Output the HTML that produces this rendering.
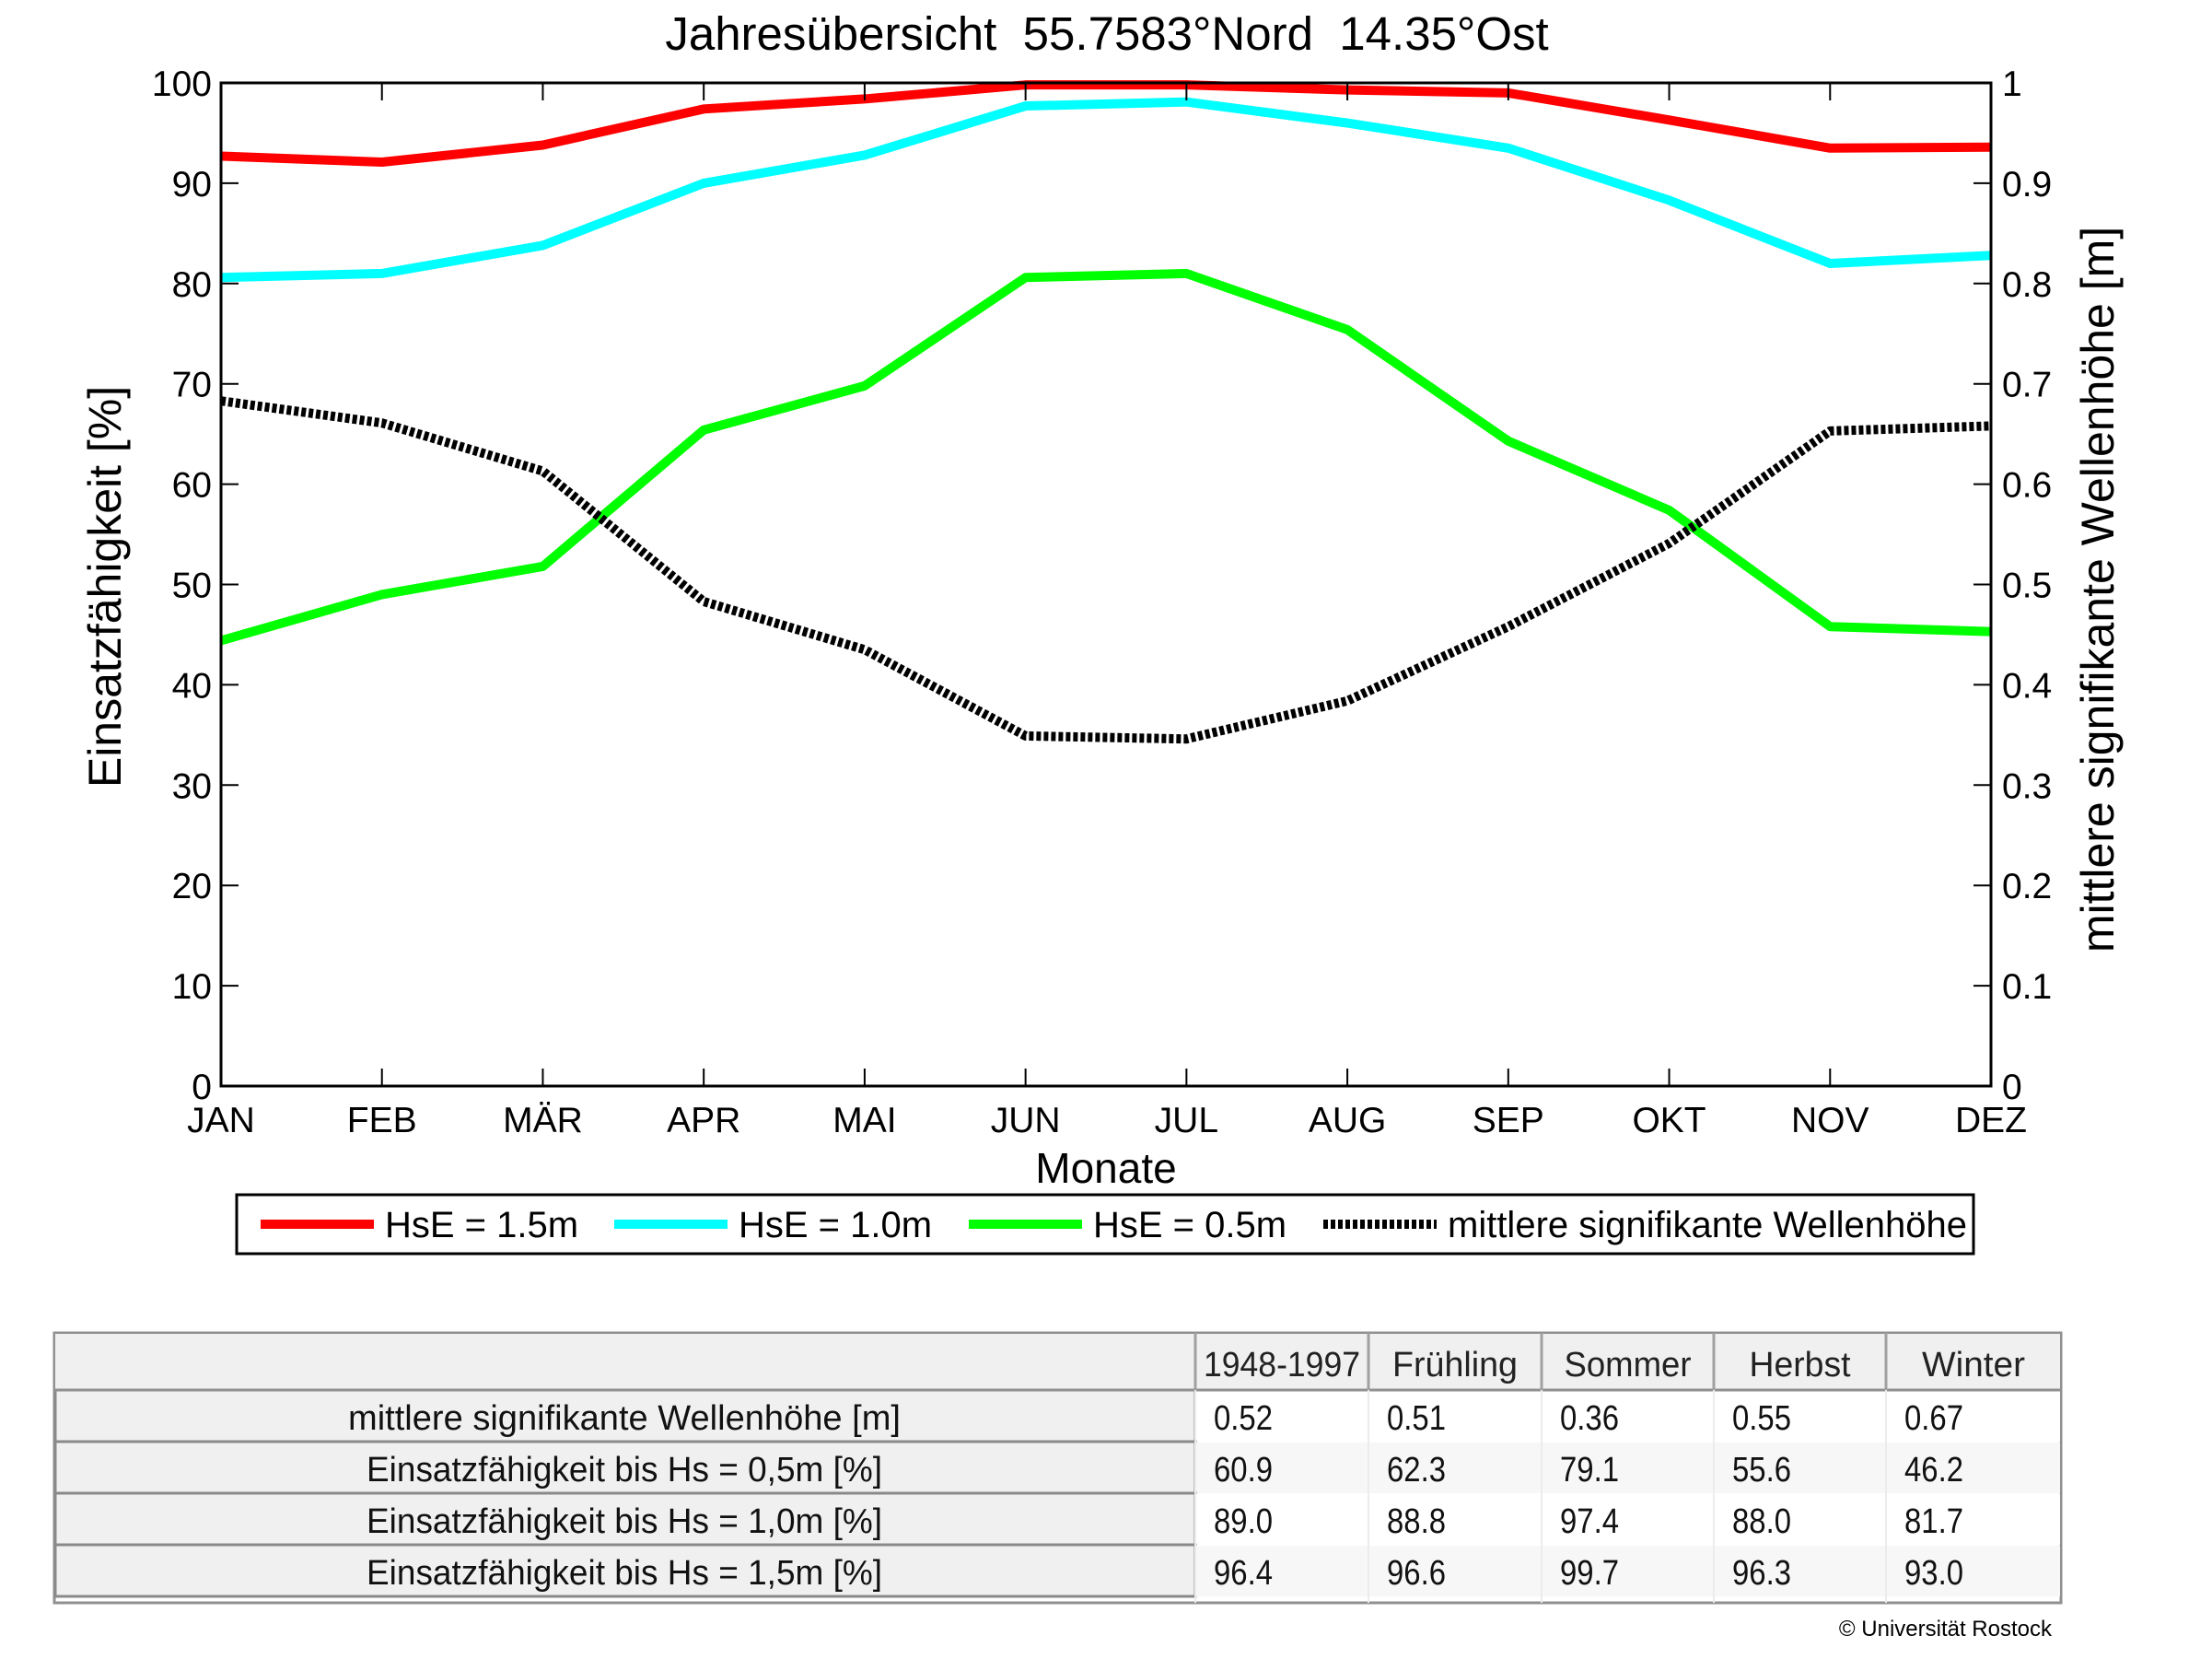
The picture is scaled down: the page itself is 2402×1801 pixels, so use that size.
<!DOCTYPE html>
<html><head><meta charset="utf-8"><style>
html,body{margin:0;padding:0;background:#fff;}
svg{display:block;font-family:"Liberation Sans",sans-serif;}
</style></head><body>
<svg id="chart" width="2402" height="1801" viewBox="0 0 2402 1801">
<g id="plot"></g>
<g id="tbl"></g>
</svg>
<script>
const months = ["JAN","FEB","MÄR","APR","MAI","JUN","JUL","AUG","SEP","OKT","NOV","DEZ"];
const hs15 = [92.7,92.1,93.8,97.4,98.4,99.8,99.8,99.3,99.0,96.3,93.5,93.6];
const hs10 = [80.6,81.0,83.8,90.0,92.8,97.7,98.1,96.0,93.5,88.3,82.0,82.8];
const hs05 = [44.4,49.0,51.8,65.4,69.8,80.6,81.0,75.4,64.3,57.4,45.8,45.3];
const waveH = [0.683,0.661,0.613,0.483,0.435,0.349,0.346,0.384,0.458,0.541,0.653,0.658];
const leftTicks = [0,10,20,30,40,50,60,70,80,90,100];
const rightTicks = [0,0.1,0.2,0.3,0.4,0.5,0.6,0.7,0.8,0.9,1];
const rightTickLabels = ["0","0.1","0.2","0.3","0.4","0.5","0.6","0.7","0.8","0.9","1"];
const tableHeader = ["","1948-1997","Frühling","Sommer","Herbst","Winter"];
const tableRows = [
 ["mittlere signifikante Wellenhöhe [m]","0.52","0.51","0.36","0.55","0.67"],
 ["Einsatzfähigkeit bis Hs = 0,5m [%]","60.9","62.3","79.1","55.6","46.2"],
 ["Einsatzfähigkeit bis Hs = 1,0m [%]","89.0","88.8","97.4","88.0","81.7"],
 ["Einsatzfähigkeit bis Hs = 1,5m [%]","96.4","96.6","99.7","96.3","93.0"]
];

const NS="http://www.w3.org/2000/svg";
const L=240,R=2162,T=90,B=1179;
const x=i=>L+i*(R-L)/(months.length-1);
const y=v=>B-(v/100)*(B-T);
const y2=v=>B-v*(B-T);
function mk(tag,attrs,parent,text){const e=document.createElementNS(NS,tag);for(const k in attrs)e.setAttribute(k,attrs[k]);if(text!==undefined)e.textContent=text;parent.appendChild(e);return e;}
const plot=document.getElementById('plot');

let t=mk('text',{x:1202,y:54,'font-size':51,'text-anchor':'middle',style:'white-space:pre'},plot,"Jahresübersicht  55.7583°Nord  14.35°Ost");



function series(vals,fn,color,name,dash){
  const pts=vals.map((v,i)=>x(i)+','+fn(v)).join(' ');
  const p=mk('polyline',{points:pts,fill:'none',stroke:color,'stroke-width':10,'stroke-linejoin':'round'},plot);
  if(dash)p.setAttribute('stroke-dasharray',dash);
  
  
}
series(hs05,y,'#00ff00','line-hse-0-5m');
series(hs10,y,'#00ffff','line-hse-1-0m');
series(hs15,y,'#ff0000','line-hse-1-5m');
series(waveH,y2,'#000','line-mean-wave-height','5,3');

let bx=mk('rect',{x:L,y:T,width:R-L,height:B-T,fill:'none',stroke:'#000','stroke-width':3},plot);



leftTicks.forEach(v=>{
  mk('line',{x1:L,x2:L+19,y1:y(v),y2:y(v),stroke:'#000','stroke-width':2},plot);
  const e=mk('text',{x:L-10,y:y(v)+14,'font-size':39,'text-anchor':'end'},plot,String(v));
  
  
});
rightTicks.forEach((v,i)=>{
  mk('line',{x1:R,x2:R-19,y1:y2(v),y2:y2(v),stroke:'#000','stroke-width':2},plot);
  const e=mk('text',{x:R+12,y:y2(v)+14,'font-size':39,'text-anchor':'start'},plot,rightTickLabels[i]);
  
  
});
months.forEach((m,i)=>{
  mk('line',{x1:x(i),x2:x(i),y1:B,y2:B-19,stroke:'#000','stroke-width':2},plot);
  mk('line',{x1:x(i),x2:x(i),y1:T,y2:T+19,stroke:'#000','stroke-width':2},plot);
  const e=mk('text',{x:x(i),y:B+50,'font-size':39,'text-anchor':'middle'},plot,m);
  
  
});
t=mk('text',{x:1201,y:1284,'font-size':46,'text-anchor':'middle'},plot,"Monate");


t=mk('text',{x:0,y:0,'font-size':50,'text-anchor':'middle',transform:'translate(131,637) rotate(-90)'},plot,"Einsatzfähigkeit [%]");


t=mk('text',{x:0,y:0,'font-size':50,'text-anchor':'middle',transform:'translate(2295,640) rotate(-90)'},plot,"mittlere signifikante Wellenhöhe [m]");



const lg=mk('g',{},plot);


mk('rect',{x:257,y:1297,width:1886,height:64,fill:'#fff',stroke:'#000','stroke-width':3},lg);
const legItems=[['#ff0000','HsE = 1.5m',283,null],['#00ffff','HsE = 1.0m',667,null],['#00ff00','HsE = 0.5m',1052,null],['#000','mittlere signifikante Wellenhöhe',1437,'5,3']];
legItems.forEach(it=>{
  const g=mk('g',{},lg);
  
  
  const ln=mk('line',{x1:it[2],x2:it[2]+123,y1:1329,y2:1329,stroke:it[0],'stroke-width':10},g);
  if(it[3])ln.setAttribute('stroke-dasharray',it[3]);
  mk('text',{x:it[2]+135,y:1343,'font-size':40},g,it[1]);
});

const tb=document.getElementById('tbl');
const colX=[59,1298,1486,1674,1861,2048,2238];
const rowY=[1447,1509,1565,1621,1677,1734];
mk('rect',{x:59,y:1447,width:2179,height:293,fill:'#fff',stroke:'#909090','stroke-width':3},tb);
mk('rect',{x:60,y:1448,width:2177,height:61,fill:'#f0f0f0'},tb);
for(let r=0;r<4;r++){
  mk('rect',{x:60,y:rowY[r+1],width:1238,height:56,fill:'#f0f0f0',stroke:'#8a8a8a','stroke-width':3},tb);
  mk('rect',{x:1298,y:rowY[r+1]+1,width:939,height:55,fill:r%2?'#f7f7f7':'#fff'},tb);
}
mk('line',{x1:59,x2:2238,y1:1509,y2:1509,stroke:'#909090','stroke-width':3},tb);
mk('line',{x1:59,x2:2238,y1:1740,y2:1740,stroke:'#909090','stroke-width':3},tb);
for(let c=1;c<6;c++){
  mk('line',{x1:colX[c],x2:colX[c],y1:1447,y2:1509,stroke:'#a0a0a0','stroke-width':3},tb);
  mk('line',{x1:colX[c],x2:colX[c],y1:1509,y2:1740,stroke:'#ececec','stroke-width':2},tb);
}
const hdrW=[0,170,136,138,110,112];
tableHeader.forEach((h,c)=>{
  if(!h)return;
  const e=mk('text',{x:(colX[c]+colX[c+1])/2,y:1494,'font-size':38,'text-anchor':'middle',fill:'#222'},tb,h);
  
  
  e.setAttribute('textLength',hdrW[c]);
  e.setAttribute('lengthAdjust','spacingAndGlyphs');
});
tableRows.forEach((row,r)=>{
  row.forEach((v,c)=>{
    const yy=rowY[r+1]+43;
    let e;
    if(c===0){
      e=mk('text',{x:678,y:yy,'font-size':38,'text-anchor':'middle',fill:'#111'},tb,v);
      e.setAttribute('textLength',r===0?600:560);
    }else{
      e=mk('text',{x:colX[c]+20,y:yy,'font-size':38,fill:'#111'},tb,v);
      e.setAttribute('textLength',v.length*16);
    }
    e.setAttribute('lengthAdjust','spacingAndGlyphs');
    
    
  });
});
t=mk('text',{x:2228,y:1776,'font-size':24,'text-anchor':'end'},tb,"© Universität Rostock");


</script>
</body></html>
